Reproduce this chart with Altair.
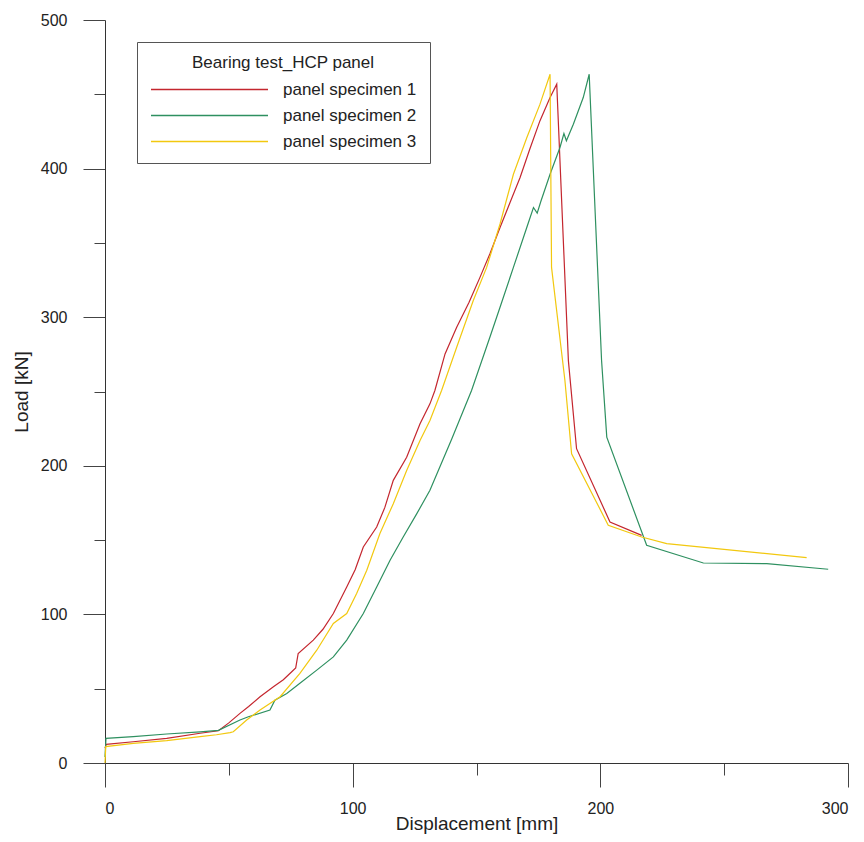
import altair as alt
import pandas as pd

# Specimen 1 (red)
disp1 = [0, 0.5, 11.4, 24.9, 38.4, 45.8, 50, 54.5, 58, 62.6, 68, 72, 75.4, 77, 78, 84.1, 88, 92.2, 97.6, 101,
         104.3, 109.7, 113, 116.4, 121.8, 127.2, 131.2, 133.2, 137.3, 142, 147, 151.4, 155.5, 159.5, 163.5,
         167.6, 171.5, 175.6, 179.7, 182.4, 187.1, 190.4, 203.9, 216.7]
load1 = [10, 12.5, 14.3, 16.6, 20, 21.7, 27, 33.4, 38, 44.6, 51.3, 56, 61.4, 64, 73.7, 82.7, 90, 100.6, 118.5, 130,
         145.4, 158.8, 172, 190.2, 205.8, 228.3, 241.7, 250.7, 275.3, 293.2, 310, 326.8, 343, 360.4, 377,
         394, 413, 432.1, 447.8, 456.8, 270.8, 211.5, 162.2, 153.2]

# Specimen 2 (green)
disp2 = [0, 0.4, 11.4, 24.9, 38.4, 45.8, 54.5, 57.9, 66.6, 68.6, 73.4, 78.7, 85.5, 92.2, 97.6, 104.3, 109.7,
         115.1, 120.4, 125.9, 131.2, 140, 148, 155.4, 159.5, 164.9, 170.3, 173, 174.5, 176, 179.7, 183.7,
         185.3, 186.3, 189.1, 193.1, 195.5, 200.5, 202.6, 218.7, 241.6, 267.2, 292]
load2 = [4, 16.6, 17.7, 19.5, 21, 22, 28.9, 31.1, 35.6, 42.3, 46.8, 53.6, 62.5, 71.4, 82.7, 100.6, 118.5,
         136.4, 152.1, 167.8, 183.5, 218, 250.7, 286.5, 306.7, 333.5, 360.4, 373.8, 370, 378, 396.2, 414.2,
         423.6, 418.7, 429.8, 447.8, 463.5, 270.8, 219.3, 146.5, 134.6, 134.2, 130.4]

# Specimen 3 (yellow)
disp3 = [0, 0.3, 11.4, 24.9, 38.4, 45, 50.5, 51.8, 57.2, 62.6, 70.7, 78.7, 85.5, 92.2, 97.6, 101.6, 105.7,
         111, 116.4, 121.8, 127.2, 131.2, 135.9, 142, 148.7, 154.1, 159.5, 164.9, 170.3, 175.6, 179.7,
         180.3, 185.7, 188.4, 203.2, 216.7, 226.8, 283.3]
load3 = [0, 11, 13.2, 15, 17.7, 19, 20.4, 21, 28.9, 35.6, 44.6, 60.3, 75.9, 93.9, 100.6, 114, 129.7,
         154.4, 174.5, 196.9, 217.1, 230.5, 250.7, 279.8, 311.2, 333.5, 362.7, 396.2, 420.8, 443.2, 463.5,
         333.5, 257.4, 208.1, 160, 152.1, 147.6, 138.2]

series_names = ["panel specimen 1", "panel specimen 2", "panel specimen 3"]
series_colors = ["#c4262e", "#2e9060", "#f2c80f"]
x_ticks = [0, 50, 100, 150, 200, 250, 300]
y_ticks = [0, 50, 100, 150, 200, 250, 300, 350, 400, 450, 500]

rows = []
for name, xs, ys in zip(series_names, [disp1, disp2, disp3], [load1, load2, load3]):
    for i, (a, b) in enumerate(zip(xs, ys)):
        rows.append({"disp": a, "load": b, "specimen": name, "idx": i})
df = pd.DataFrame(rows)

FONT = "Liberation Sans"

chart = alt.Chart(df).mark_line(strokeWidth=1.2, clip=False).encode(
    x=alt.X("disp:Q",
            scale=alt.Scale(domain=[0, 300], nice=False),
            axis=alt.Axis(values=x_ticks,
                          labelExpr="datum.value % 100 === 0 ? datum.label : ''",
                          tickSize={"condition": {"test": "datum.value % 100 === 0", "value": 24}, "value": 12},
                          labelPadding=13,
                          labelFontSize=16,
                          title="Displacement [mm]",
                          titleFontSize=19,
                          titleFontWeight="normal",
                          titleY=66,
                          titleBaseline="alphabetic")),
    y=alt.Y("load:Q",
            scale=alt.Scale(domain=[0, 500], nice=False),
            axis=alt.Axis(values=y_ticks,
                          labelExpr="datum.value % 100 === 0 ? datum.label : ''",
                          tickSize={"condition": {"test": "datum.value % 100 === 0", "value": 22}, "value": 11},
                          labelPadding=16,
                          labelFontSize=16,
                          title="Load [kN]",
                          titleFontSize=19,
                          titleFontWeight="normal",
                          titleAngle=270,
                          titleX=-78,
                          titleBaseline="alphabetic")),
    color=alt.Color("specimen:N",
                    scale=alt.Scale(domain=series_names, range=series_colors),
                    legend=alt.Legend(title="Bearing test_HCP panel",
                                      orient="none", legendX=32, legendY=22,
                                      symbolType="stroke", symbolSize=13689,
                                      symbolStrokeWidth=1.5, clipHeight=17,
                                      labelFontSize=17, titleFontSize=17,
                                      titleFontWeight="normal",
                                      titleLimit=400, labelLimit=300,
                                      titleAnchor="middle", titleAlign="center",
                                      padding=13, strokeColor="#555", fillColor="white",
                                      labelOffset=14, rowPadding=8, titlePadding=9,
                                      labelFont=FONT, titleFont=FONT,
                                      labelColor="#222", titleColor="#222")),
    order="idx:Q",
).properties(
    width=743, height=743,
    autosize=alt.AutoSizeParams(type="none"),
    padding={"left": 97, "top": 12, "right": 8, "bottom": 71},
).configure_view(stroke=None).configure_axis(
    grid=False,
    domainColor="#333",
    tickColor="#444",
    labelColor="#222",
    titleColor="#222",
    labelFont=FONT,
    titleFont=FONT,
)

chart.save("out.html", embed_options={"renderer": "svg", "actions": False})
